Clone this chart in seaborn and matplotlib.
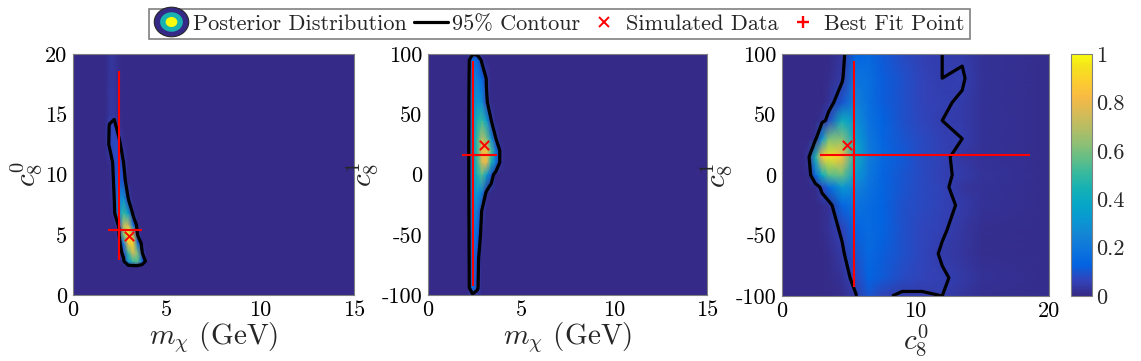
import numpy as np
import matplotlib
matplotlib.use("Agg")
import matplotlib.pyplot as plt
import seaborn as sns
from matplotlib.colors import LinearSegmentedColormap
from matplotlib.legend_handler import HandlerBase
from matplotlib.patches import Ellipse
from matplotlib.lines import Line2D

# ---------------- data ----------------
# simulated (true) point and best-fit point with credible intervals
m_true, c0_true, c1_true = 3.0, 4.9, 24.6
m_best, c0_best, c1_best = 2.44, 5.4, 16.3
m_int = [1.85, 3.70]
c0_int = [2.88, 18.6]
c1_int = [-92.7, 94.0]

contour_level = 0.05

# panel 1 : m_chi (x) vs c8^0 (y)
p1_x = [0, 1.7, 1.95, 2.2, 2.45, 2.7, 2.95, 3.2, 3.45, 3.7, 3.95, 4.3, 15]
p1_y = [0, 2.4, 2.8, 3.5, 4.3, 5.0, 5.8, 6.8, 8.0, 9.5, 11.0, 12.5, 14.0, 15.0, 17.0, 20.0]
p1_z = [
    [0, 0, 0, 0, 0, 0, 0, 0, 0, 0, 0, 0, 0],
    [0, 0, 0, 0, 0, 0, 0, 0, 0, 0, 0, 0, 0],
    [0, 0, 0, 0, 0, 0.03, 0.30, 0.50, 0.55, 0.15, 0, 0, 0],
    [0, 0, 0, 0, 0, 0.08, 0.50, 0.75, 0.60, 0.05, 0, 0, 0],
    [0, 0, 0, 0, 0, 0.20, 0.85, 0.90, 0.20, 0, 0, 0, 0],
    [0, 0, 0, 0, 0.03, 0.60, 1.00, 0.70, 0.04, 0, 0, 0, 0],
    [0, 0, 0, 0, 0.06, 0.70, 0.75, 0.20, 0, 0, 0, 0, 0],
    [0, 0, 0, 0.02, 0.30, 0.50, 0.35, 0.02, 0, 0, 0, 0, 0],
    [0, 0, 0, 0.05, 0.25, 0.30, 0.05, 0, 0, 0, 0, 0, 0],
    [0, 0, 0, 0.06, 0.15, 0.08, 0, 0, 0, 0, 0, 0, 0],
    [0, 0, 0.01, 0.07, 0.09, 0.05, 0, 0, 0, 0, 0, 0, 0],
    [0, 0, 0.06, 0.08, 0.07, 0.01, 0, 0, 0, 0, 0, 0, 0],
    [0, 0, 0.055, 0.07, 0.02, 0, 0, 0, 0, 0, 0, 0, 0],
    [0, 0, 0.03, 0.035, 0.01, 0, 0, 0, 0, 0, 0, 0, 0],
    [0, 0, 0.03, 0.03, 0.01, 0, 0, 0, 0, 0, 0, 0, 0],
    [0, 0, 0.025, 0.025, 0.01, 0, 0, 0, 0, 0, 0, 0, 0],
]

# panel 2 : m_chi (x) vs c8^1 (y)
p2_x = [0, 1.9, 2.15, 2.4, 2.65, 2.9, 3.15, 3.4, 3.65, 3.9, 4.2, 15]
p2_y = [-100, -94, -70, -50, -30, -15, 0, 10, 20, 30, 45, 60, 80, 95, 100]
p2_z = [
    [0, 0, 0, 0.03, 0.03, 0, 0, 0, 0, 0, 0, 0],
    [0, 0, 0, 0.18, 0.06, 0, 0, 0, 0, 0, 0, 0],
    [0, 0, 0, 0.20, 0.07, 0, 0, 0, 0, 0, 0, 0],
    [0, 0, 0, 0.22, 0.14, 0.01, 0, 0, 0, 0, 0, 0],
    [0, 0, 0, 0.25, 0.22, 0.04, 0, 0, 0, 0, 0, 0],
    [0, 0, 0, 0.28, 0.32, 0.22, 0.02, 0, 0, 0, 0, 0],
    [0, 0, 0, 0.30, 0.45, 0.55, 0.35, 0.10, 0, 0, 0, 0],
    [0, 0, 0, 0.30, 0.50, 0.75, 0.80, 0.45, 0.20, 0.02, 0, 0],
    [0, 0, 0, 0.30, 0.50, 0.80, 0.85, 0.55, 0.20, 0.02, 0, 0],
    [0, 0, 0, 0.30, 0.50, 0.70, 0.60, 0.30, 0.05, 0, 0, 0],
    [0, 0, 0, 0.28, 0.45, 0.50, 0.35, 0.05, 0, 0, 0, 0],
    [0, 0, 0, 0.26, 0.32, 0.28, 0.06, 0, 0, 0, 0, 0],
    [0, 0, 0, 0.22, 0.22, 0.14, 0.04, 0, 0, 0, 0, 0],
    [0, 0, 0, 0.18, 0.14, 0.03, 0, 0, 0, 0, 0, 0],
    [0, 0, 0, 0.04, 0.03, 0, 0, 0, 0, 0, 0, 0],
]

# panel 3 : c8^0 (x) vs c8^1 (y)
p3_x = [0, 1.5, 2.0, 2.5, 3.0, 3.5, 4.5, 5.5, 6.5, 7.5, 9, 10.5, 12, 13.5, 15, 20]
p3_y = [-100, -85, -65, -45, -25, -10, 0, 15, 30, 45, 60, 80, 100]
p3_z = [
    [0, 0, 0, 0, 0, 0, 0.01, 0.045, 0.10, 0.06, 0.04, 0.045, 0.05, 0.03, 0.015, 0.01],
    [0, 0, 0, 0, 0, 0.005, 0.02, 0.07, 0.13, 0.11, 0.08, 0.065, 0.055, 0.04, 0.02, 0.01],
    [0, 0, 0, 0, 0, 0.01, 0.04, 0.10, 0.15, 0.12, 0.09, 0.07, 0.045, 0.03, 0.015, 0.01],
    [0, 0, 0, 0, 0.01, 0.02, 0.06, 0.13, 0.16, 0.13, 0.09, 0.07, 0.055, 0.035, 0.015, 0.01],
    [0, 0, 0, 0, 0.01, 0.02, 0.14, 0.18, 0.16, 0.13, 0.09, 0.075, 0.06, 0.045, 0.02, 0.01],
    [0, 0, 0, 0.01, 0.07, 0.15, 0.32, 0.25, 0.18, 0.14, 0.10, 0.075, 0.06, 0.03, 0.02, 0.01],
    [0, 0, 0.01, 0.15, 0.40, 0.55, 0.58, 0.33, 0.20, 0.14, 0.10, 0.075, 0.055, 0.045, 0.025, 0.01],
    [0, 0, 0.03, 0.45, 0.85, 0.95, 0.85, 0.42, 0.22, 0.15, 0.11, 0.075, 0.06, 0.035, 0.02, 0.01],
    [0, 0, 0, 0.02, 0.30, 0.60, 0.62, 0.36, 0.20, 0.14, 0.10, 0.075, 0.055, 0.05, 0.02, 0.01],
    [0, 0, 0, 0, 0.02, 0.08, 0.42, 0.30, 0.18, 0.13, 0.09, 0.07, 0.05, 0.045, 0.02, 0.01],
    [0, 0, 0, 0, 0, 0.02, 0.10, 0.24, 0.17, 0.12, 0.09, 0.065, 0.055, 0.045, 0.02, 0.01],
    [0, 0, 0, 0, 0, 0.01, 0.04, 0.19, 0.17, 0.12, 0.09, 0.065, 0.05, 0.055, 0.02, 0.01],
    [0, 0, 0, 0, 0, 0, 0.03, 0.13, 0.15, 0.11, 0.08, 0.055, 0.05, 0.045, 0.02, 0.01],
]

m_ticks = [0, 5, 10, 15]
c0_ticks = [0, 5, 10, 15, 20]
c1_ticks = [-100, -50, 0, 50, 100]
cbar_ticks = [0, 0.2, 0.4, 0.6, 0.8, 1]
cbar_labels = ["0", "0.2", "0.4", "0.6", "0.8", "1"]
legend_labels = ["Posterior Distribution", "95% Contour", "Simulated Data", "Best Fit Point"]

# ---------------- style ----------------
sns.set_style("white")
plt.rcParams["font.family"] = ["cmr10", "DejaVu Serif"]
plt.rcParams["mathtext.fontset"] = "cm"
plt.rcParams["axes.unicode_minus"] = False

parula_anchors = [
    (0.2081, 0.1663, 0.5292), (0.1959, 0.2645, 0.7279), (0.0117, 0.3875, 0.8820),
    (0.0498, 0.4586, 0.8641), (0.0793, 0.5200, 0.8312), (0.0343, 0.5966, 0.8199),
    (0.0228, 0.6535, 0.7768), (0.0843, 0.6928, 0.7062), (0.2178, 0.7250, 0.6193),
    (0.3953, 0.7459, 0.5244), (0.5709, 0.7485, 0.4494), (0.7184, 0.7411, 0.3905),
    (0.8507, 0.7299, 0.3360), (0.9739, 0.7314, 0.2666), (0.9880, 0.8066, 0.1794),
    (0.9589, 0.8949, 0.1132), (0.9763, 0.9831, 0.0538),
]
pos = [i * 4 / 63 for i in range(16)] + [1.0]
parula = LinearSegmentedColormap.from_list("parula", list(zip(pos, parula_anchors)))

W, H = 1141, 361
fig = plt.figure(figsize=(W / 100, H / 100), dpi=100)


def frac(x0, y0, x1, y1):
    return [x0 / W, 1 - y1 / H, (x1 - x0) / W, (y1 - y0) / H]


ax1 = fig.add_axes(frac(73, 54, 354, 295))
ax2 = fig.add_axes(frac(428, 54, 707, 295))
ax3 = fig.add_axes(frac(782, 54, 1049, 296))
cax = fig.add_axes(frac(1071, 54, 1092, 296))

TICK_FS = 16
LABEL_FS = 21
SPINE_C = "0.5"
RED = (1, 0, 0)


def draw_panel(ax, xs, ys, zs, bx, by, xint, yint, tx, ty, xlim, ylim, xticks, yticks, xlabel, ylabel):
    X, Y = np.meshgrid(np.array(xs, float), np.array(ys, float))
    Z = np.array(zs, float)
    mesh = ax.pcolormesh(X, Y, Z, cmap=parula, vmin=0, vmax=1, shading="gouraud", rasterized=True)
    ax.contour(X, Y, Z, levels=[contour_level], colors="k", linewidths=2.3)
    ax.errorbar([bx], [by], xerr=[[bx - xint[0]], [xint[1] - bx]], yerr=[[by - yint[0]], [yint[1] - by]],
                fmt="+", color=RED, ecolor=RED, elinewidth=1.5, capsize=0, ms=8, mew=1.5, zorder=6)
    sns.scatterplot(x=[tx], y=[ty], marker="x", color=RED, s=45, linewidth=1.4, ax=ax, zorder=7, legend=False)
    ax.set_xlim(*xlim)
    ax.set_ylim(*ylim)
    ax.set_xticks(xticks)
    ax.set_xticklabels([str(t) for t in xticks])
    ax.set_yticks(yticks)
    ax.set_yticklabels([str(t) for t in yticks])
    ax.tick_params(direction="in", length=3, width=0.6, color="0.3", top=True, right=True,
                   labelsize=TICK_FS, labelcolor="k", pad=4)
    for s in ax.spines.values():
        s.set_visible(True)
        s.set_color(SPINE_C)
        s.set_linewidth(0.8)
    ax.set_xlabel(xlabel, fontsize=LABEL_FS, labelpad=0)
    ax.set_ylabel(ylabel, fontsize=LABEL_FS, labelpad=1)
    return mesh


draw_panel(ax1, p1_x, p1_y, p1_z, m_best, c0_best, m_int, c0_int, m_true, c0_true,
           (0, 15), (0, 20), m_ticks, c0_ticks, r"$m_\chi$ (GeV)", r"$c_8^0$")
draw_panel(ax2, p2_x, p2_y, p2_z, m_best, c1_best, m_int, c1_int, m_true, c1_true,
           (0, 15), (-100, 100), m_ticks, c1_ticks, r"$m_\chi$ (GeV)", r"$c_8^1$")
mesh = draw_panel(ax3, p3_x, p3_y, p3_z, c0_best, c1_best, c0_int, c1_int, c0_true, c1_true,
                  (0, 20), (-100, 100), [0, 10, 20], c1_ticks, r"$c_8^0$", r"$c_8^1$")
ax3.xaxis.labelpad = 1

cb = fig.colorbar(mesh, cax=cax, ticks=cbar_ticks)
cb.ax.set_yticklabels(cbar_labels)
cb.ax.tick_params(direction="in", length=3, width=0.6, color="0.3", labelsize=TICK_FS, pad=3)
cb.outline.set_edgecolor(SPINE_C)
cb.outline.set_linewidth(0.8)


# ---------------- legend ----------------
class PosteriorIcon:
    pass


class PosteriorHandler(HandlerBase):
    def create_artists(self, legend, orig_handle, xdescent, ydescent, width, height, fontsize, trans):
        cx = width / 2 - xdescent
        cy = height / 2 - ydescent
        w = width
        h = height * 1.9
        arts = []
        for f, c, ec in [(1.0, parula(0.0), "0.15"), (0.66, parula(0.45), "none"), (0.34, parula(1.0), "none")]:
            e = Ellipse((cx, cy), w * f, h * f, facecolor=c, edgecolor=ec, lw=0.8, transform=trans)
            arts.append(e)
        return arts


handles = [
    PosteriorIcon(),
    Line2D([], [], color="k", lw=2.3),
    Line2D([], [], color=RED, marker="x", ls="none", ms=7, mew=1.4),
    Line2D([], [], color=RED, marker="+", ls="none", ms=8, mew=1.7),
]
leg = fig.legend(handles, legend_labels, handler_map={PosteriorIcon: PosteriorHandler()},
                 loc="center", bbox_to_anchor=(559.5 / W, 1 - 24 / H), ncol=4, fontsize=16,
                 frameon=True, fancybox=False, framealpha=1, edgecolor="0.5",
                 handlelength=1.55, handletextpad=0.2, columnspacing=0.3, borderpad=0.22,
                 borderaxespad=0)
leg.get_frame().set_linewidth(1.2)

fig.savefig("out.png", dpi=100)
